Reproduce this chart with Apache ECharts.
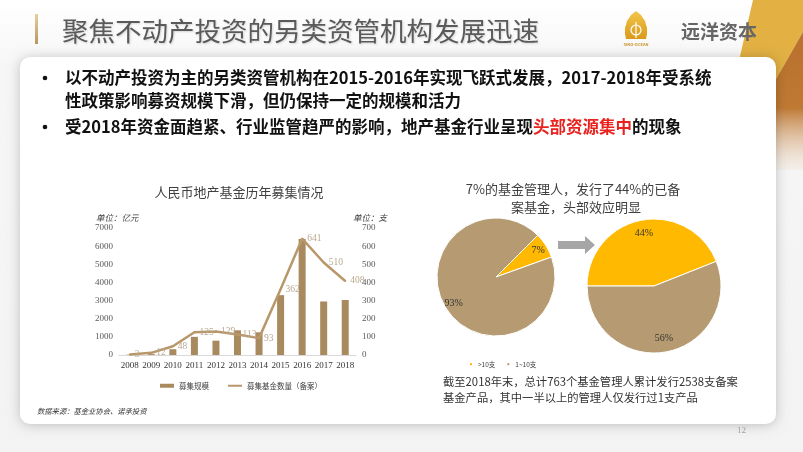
<!DOCTYPE html>
<html>
<head>
<meta charset="utf-8">
<script src="https://cdn.jsdelivr.net/npm/echarts@6/dist/echarts.min.js"></script>
<style>
html,body{margin:0;padding:0;background:#f4f4f4;}
#c{width:803px;height:452px;}
</style>
</head>
<body>
<div id="c"></div>
<script>
// ---- data ----
const years = ['2008','2009','2010','2011','2012','2013','2014','2015','2016','2017','2018'];
const fundSize = [20, 50, 320, 1000, 790, 1360, 1250, 3300, 6400, 2950, 3030];   // 亿元
const fundCount = [3, 12, 48, 125, 129, 113, 93, 362, 641, 510, 408];          // 支
const leftTicks = [0, 7000, 1000];
const rightTicks = [0, 700, 100];
const pieNames = ['>10支', '1~10支'];
const pieManagers = [7, 93];
const pieFunds = [44, 56];

const CJK = '"Noto Sans CJK SC", sans-serif';
const SERIF = '"Liberation Serif", "Noto Sans CJK SC", serif';
const BAR = '#a88a5e', LINE = '#b8976b', YEL = '#ffb900', BRN = '#b59a72';

const chart = echarts.init(document.getElementById('c'), null, {renderer: 'canvas'});

function pct(v){ return v + '%'; }
function plain(v){ return String(v); }

const option = {
  backgroundColor: 'transparent',
  animation: false,
  graphic: [
    // page background
    {type:'rect', z:-10, shape:{x:0,y:0,width:803,height:452},
     style:{fill:{type:'linear',x:0,y:0,x2:0,y2:1,colorStops:[{offset:0,color:'#ffffff'},{offset:0.15,color:'#f6f6f6'},{offset:1,color:'#f3f3f3'}]}}},
    // top right decorations
    {type:'polygon', z:-9, shape:{points:[[753,0],[803,0],[803,32],[730,160],[716,160]]}, style:{fill:'#e2b043'}},
    {type:'polygon', z:-8, shape:{points:[[803,32],[803,170],[724,170]]},
     style:{fill:{type:'linear',x:0,y:0,x2:0,y2:1,colorStops:[{offset:0,color:'#b8702c'},{offset:0.55,color:'#bf7933'},{offset:1,color:'rgba(240,225,210,0.3)'}]}}},
    // card
    {type:'rect', z:-5, shape:{x:20,y:57,width:756,height:367,r:10},
     style:{fill:'#ffffff', shadowBlur:12, shadowColor:'rgba(0,0,0,0.22)', shadowOffsetX:0, shadowOffsetY:1}},
    // title bar + title
    {type:'rect', shape:{x:35,y:14,width:3,height:30},
     style:{fill:{type:'linear',x:0,y:0,x2:0,y2:1,colorStops:[{offset:0,color:'#e6cfa0'},{offset:1,color:'#b8975f'}]}}},
    {type:'text', style:{x:62, y:31, text:'聚焦不动产投资的另类资管机构发展迅速', fill:'#5a5a5a',
      font:'normal 26.5px ' + CJK, verticalAlign:'middle', textShadowColor:'rgba(0,0,0,0.15)', textShadowBlur:2, textShadowOffsetX:1, textShadowOffsetY:1}},
    // logo
    {type:'polygon', shape:{points:[[636,11],[641,15],[645,21],[647,28],[647,34],[646,39],[626,39],[625,34],[625,28],[627,21],[631,15]]},
     style:{fill:{type:'linear',x:0,y:0,x2:0,y2:1,colorStops:[{offset:0,color:'#f3c64a'},{offset:1,color:'#d99a1c'}]}}},
    {type:'circle', shape:{cx:636, cy:30, r:5}, style:{fill:'none', stroke:'#fff', lineWidth:1.2}},
    {type:'line', shape:{x1:636,y1:22,x2:636,y2:38}, style:{stroke:'#fff', lineWidth:1.2}},
    {type:'text', style:{x:636, y:44, text:'SINO-OCEAN', fill:'#c8962a', font:'bold 4px ' + CJK, align:'center', verticalAlign:'middle'}},
    {type:'text', style:{x:681, y:32, text:'远洋资本', fill:'#666666', font:'bold 19px ' + CJK, verticalAlign:'middle'}},
    // bullets
    {type:'circle', shape:{cx:45, cy:78, r:2.3}, style:{fill:'#111'}},
    {type:'circle', shape:{cx:45, cy:127, r:2.3}, style:{fill:'#111'}},
    {type:'text', style:{x:65, y:78, text:'以不动产投资为主的另类资管机构在2015-2016年实现飞跃式发展，2017-2018年受系统', fill:'#111', font:'bold 16.5px ' + CJK, verticalAlign:'middle'}},
    {type:'text', style:{x:65, y:101, text:'性政策影响募资规模下滑，但仍保持一定的规模和活力', fill:'#111', font:'bold 16.5px ' + CJK, verticalAlign:'middle'}},
    {type:'text', style:{x:65, y:127, text:'{a|受2018年资金面趋紧、行业监管趋严的影响，地产基金行业呈现}{r|头部资源集中}{a|的现象}',
      verticalAlign:'middle',
      rich:{a:{fill:'#111', font:'bold 16.5px ' + CJK}, r:{fill:'#e8231f', font:'bold 16.5px ' + CJK}}}},
    // bar chart title + units
    {type:'text', style:{x:239, y:192, text:'人民币地产基金历年募集情况', fill:'#404040', font:'normal 13px ' + CJK, align:'center', verticalAlign:'middle'}},
    {type:'text', style:{x:96, y:218, text:'单位：亿元', fill:'#404040', font:'italic 8.5px ' + CJK, verticalAlign:'middle'}},
    {type:'text', style:{x:353, y:218, text:'单位：支', fill:'#404040', font:'italic 8.5px ' + CJK, verticalAlign:'middle'}},
    // source
    {type:'text', style:{x:37, y:411, text:'数据来源：基金业协会、诺承投资', fill:'#333', font:'italic 7.3px ' + CJK, verticalAlign:'middle'}},
    // pie title
    {type:'text', style:{x:573, y:189, text:'7%的基金管理人，发行了44%的已备', fill:'#404040', font:'normal 13px ' + CJK, align:'center', verticalAlign:'middle'}},
    {type:'text', style:{x:576, y:207, text:'案基金，头部效应明显', fill:'#404040', font:'normal 13px ' + CJK, align:'center', verticalAlign:'middle'}},
    // arrow
    {type:'polygon', shape:{points:[[558,241],[585,241],[585,236],[595,245],[585,254],[585,249],[558,249]]}, style:{fill:'#a6a6a6'}},
    // bottom text
    {type:'text', style:{x:443, y:382, text:'截至2018年末，总计763个基金管理人累计发行2538支备案', fill:'#333', font:'normal 11.3px ' + CJK, verticalAlign:'middle'}},
    {type:'text', style:{x:443, y:398, text:'基金产品，其中一半以上的管理人仅发行过1支产品', fill:'#333', font:'normal 11.3px ' + CJK, verticalAlign:'middle'}},
    // page number
    {type:'text', style:{x:737, y:431, text:'12', fill:'#a0a0a0', font:'normal 9px ' + SERIF, verticalAlign:'middle'}}
  ],
  legend: [
    {left:155, top:377, itemWidth:14, itemHeight:4, itemGap:18,
     textStyle:{fontSize:7.5, color:'#404040', fontFamily:CJK},
     data:[{name:'募集规模', icon:'rect'}, {name:'募集基金数量（备案）', itemStyle:{opacity:0}}]},
    {left:463, top:356, itemWidth:4, itemHeight:4, itemGap:10, icon:'rect',
     textStyle:{fontSize:6.5, color:'#404040', fontFamily:CJK},
     data:pieNames}
  ],
  grid: {left:119, right:447, top:228, bottom:97},
  xAxis: {type:'category', data:years,
    axisLine:{lineStyle:{color:'#d9d9d9'}}, axisTick:{show:false},
    axisLabel:{fontSize:9, color:'#333', fontFamily:SERIF, margin:6, interval:0}},
  yAxis: [
    {type:'value', min:leftTicks[0], max:leftTicks[1], interval:leftTicks[2],
     splitLine:{show:false}, axisLine:{show:false}, axisTick:{show:false},
     axisLabel:{fontSize:9, color:'#595959', fontFamily:SERIF, margin:6, formatter:plain}},
    {type:'value', min:rightTicks[0], max:rightTicks[1], interval:rightTicks[2],
     splitLine:{show:false}, axisLine:{show:false}, axisTick:{show:false},
     axisLabel:{fontSize:9, color:'#595959', fontFamily:SERIF, margin:6, formatter:plain}}
  ],
  series: [
    {name:'募集规模', type:'bar', data:fundSize, barWidth:7, itemStyle:{color:BAR}, z:2},
    {name:'募集基金数量（备案）', type:'line', yAxisIndex:1, data:fundCount,
     symbol:'circle', symbolSize:2, showSymbol:true,
     lineStyle:{color:LINE, width:2.5}, itemStyle:{color:LINE}, z:3,
     label:{show:true, position:'right', distance:4, color:'#b9a88f', fontSize:9.5, fontFamily:SERIF}},
    // pies
    {type:'pie', center:[496,277], radius:59, startAngle:45, clockwise:true,
     data:pieNames.map((n,i)=>({name:n, value:pieManagers[i]})),
     color:[YEL, BRN], itemStyle:{borderColor:'#fff', borderWidth:1},
     label:{show:false}, labelLine:{show:false}, emphasis:{disabled:true}},
    {type:'pie', center:[654,286], radius:67, startAngle:180, clockwise:true,
     data:pieNames.map((n,i)=>({name:n, value:pieFunds[i]})),
     color:[YEL, BRN], itemStyle:{borderColor:'#fff', borderWidth:1},
     label:{show:false}, labelLine:{show:false}, emphasis:{disabled:true}},
    // label layers (transparent rings placing labels out toward the rim)
    {type:'pie', center:[496,277], radius:[35,59], startAngle:45, clockwise:true, silent:true,
     data:pieNames.map((n,i)=>({name:n, value:pieManagers[i]})),
     itemStyle:{color:'rgba(0,0,0,0)'}, labelLine:{show:false}, emphasis:{disabled:true},
     label:{show:true, position:'inside', formatter:p=>pct(p.value), color:'#333', fontSize:10, fontFamily:SERIF}},
    {type:'pie', center:[654,286], radius:[34,67], startAngle:180, clockwise:true, silent:true,
     data:pieNames.map((n,i)=>({name:n, value:pieFunds[i]})),
     itemStyle:{color:'rgba(0,0,0,0)'}, labelLine:{show:false}, emphasis:{disabled:true},
     label:{show:true, position:'inside', formatter:p=>pct(p.value), color:'#333', fontSize:10, fontFamily:SERIF}}
  ]
};
chart.setOption(option);
</script>
</body>
</html>
